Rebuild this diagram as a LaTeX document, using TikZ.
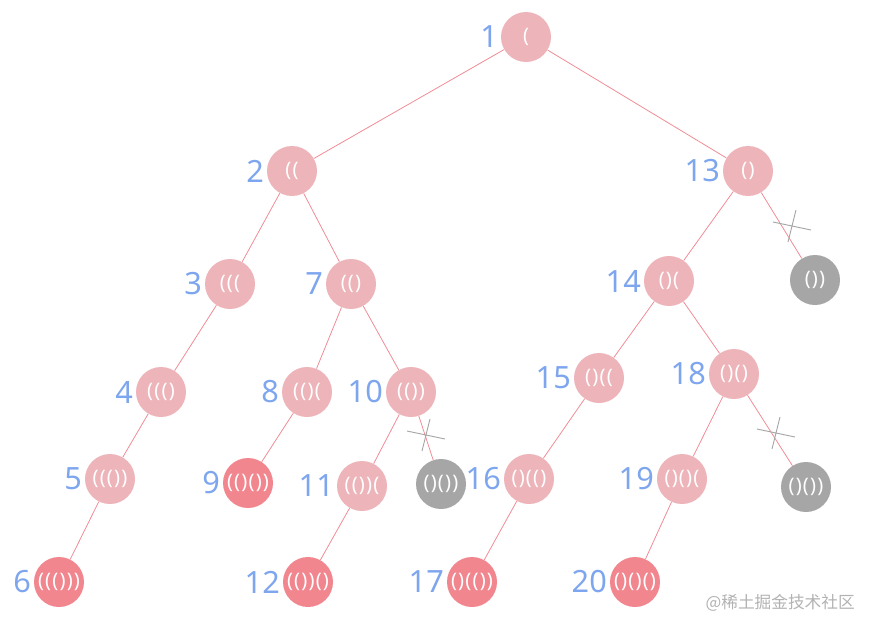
\documentclass[tikz,border=0pt]{standalone}
\usepackage{fontspec}
\setmainfont{Noto Sans}
\newfontfamily\cjk{Noto Sans CJK SC}
\newfontfamily\parfont[LetterSpace=6]{Noto Sans}
\usepackage{tikz}
\definecolor{pinkfill}{HTML}{EDB4BA}
\definecolor{redfill}{HTML}{F2868F}
\definecolor{grayfill}{HTML}{A6A6A6}
\definecolor{edgecol}{HTML}{F08C96}
\definecolor{numcol}{HTML}{7EA6EE}
\tikzset{
  br/.style={circle, minimum size=37.5pt, inner sep=0pt, text=white, font=\parfont\fontsize{15}{15}\selectfont},
  open/.style={br, fill=pinkfill},
  done/.style={br, fill=redfill},
  dead/.style={br, fill=grayfill},
  num/.style={text=numcol, font=\fontsize{23}{23}\selectfont, inner sep=0pt},
  link/.style={draw=edgecol, line width=0.6pt},
  cut/.pic={\draw[grayfill, line width=0.7pt] (-19,-4) -- (19,4) (4,-16) -- (-4,16);}
}

\begin{document}
\begin{tikzpicture}[x=0.75pt, y=-0.75pt, label distance=2pt]
    \useasboundingbox (0,0) rectangle (874,632);
    \node[open, label={[num]left:1}] (n1) at (526,37) {(};
    \node[open, label={[num]left:2}] (n2) at (292,171) {((};
    \node[open, label={[num]left:13}] (n13) at (748,171) {()};
    \node[open, label={[num]left:3}] (n3) at (230,284) {(((};
    \node[open, label={[num]left:7}] (n7) at (351,284) {(()};
    \node[open, label={[num]left:14}] (n14) at (669,281) {()(};
    \node[dead] (g13) at (815,280) {())};
    \node[open, label={[num]left:4}] (n4) at (161,392) {((()};
    \node[open, label={[num]left:8}] (n8) at (307,392) {(()(};
    \node[open, label={[num]left:10}] (n10) at (411,392) {(())};
    \node[open, label={[num]left:15}] (n15) at (599,378) {()((};
    \node[open, label={[num]left:18}] (n18) at (734,374) {()()};
    \node[open, label={[num]left:5}] (n5) at (110,479) {((())};
    \node[done, label={[num]left:9}] (n9) at (248,483) {(()())};
    \node[open, label={[num]left:11}] (n11) at (362,486) {(())(};
    \node[dead] (g10) at (441,484) {()())};
    \node[open, label={[num]left:16}] (n16) at (529,479) {()(()};
    \node[open, label={[num]left:19}] (n19) at (682,479) {()()(};
    \node[dead] (g18) at (806,487) {()())};
    \node[done, label={[num]left:6}] (n6) at (59,582) {((()))};
    \node[done, label={[num]left:12}] (n12) at (308,582) {(())()};
    \node[done, label={[num]left:17}] (n17) at (472,582) {()(())};
    \node[done, label={[num]left:20}] (n20) at (635,582) {()()()};

    \draw[link] (n1) -- (n2) (n1) -- (n13) (n2) -- (n3) (n2) -- (n7) (n3) -- (n4) (n4) -- (n5) (n5) -- (n6);
    \draw[link] (n7) -- (n8) (n7) -- (n10) (n8) -- (n9) (n10) -- (n11) (n10) -- (g10) (n11) -- (n12);
    \draw[link] (n13) -- (n14) (n13) -- (g13) (n14) -- (n15) (n14) -- (n18) (n15) -- (n16) (n16) -- (n17);
    \draw[link] (n18) -- (n19) (n18) -- (g18) (n19) -- (n20);

    \pic at (792,226) {cut};
    \pic at (426,435) {cut};
    \pic at (776,433) {cut};

    \node[anchor=east, text=black!30, font=\cjk\fontsize{12.5}{12.5}\selectfont, inner sep=0pt] (mark) at (855,603) {@稀土掘金技术社区};
  \end{tikzpicture}
\end{document}
